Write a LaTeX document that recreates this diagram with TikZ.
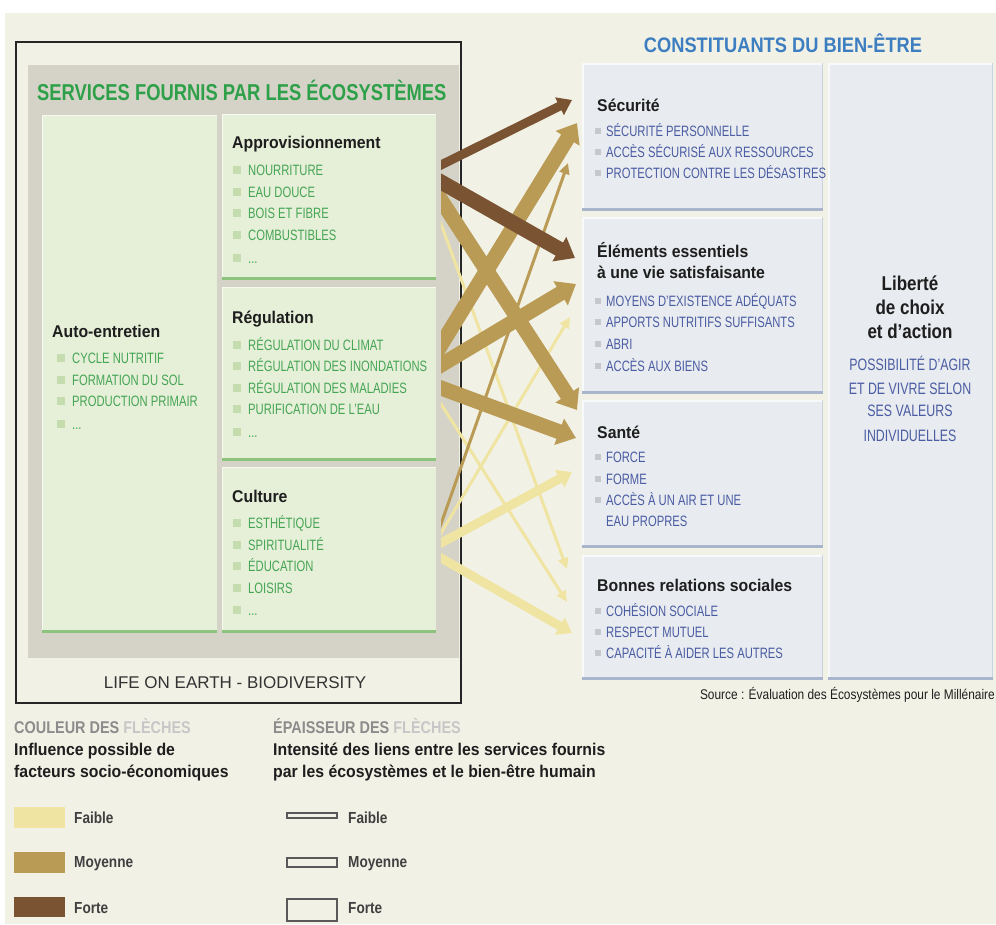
\documentclass[tikz,border=0pt]{standalone}
\usepackage{fontspec}
\setmainfont{Liberation Sans}
\newfontfamily\fitem{Liberation Sans}[FakeStretch=0.75]
\newfontfamily\fhead{Liberation Sans}[FakeStretch=0.93]
\newfontfamily\ftitle{Liberation Sans}[FakeStretch=0.8]
\newfontfamily\fblue{Liberation Sans}[FakeStretch=0.87]
\newfontfamily\fsrc{Liberation Sans}[FakeStretch=0.85]
\usetikzlibrary{arrows.meta,calc}
\definecolor{beige}{HTML}{F2F1E6}
\definecolor{greyzone}{HTML}{D5D3C7}
\definecolor{gboxc}{HTML}{E6EFD7}
\definecolor{gline}{HTML}{8CC37D}
\definecolor{gtitle}{HTML}{2FA04A}
\definecolor{gitemc}{HTML}{45A555}
\definecolor{gbul}{HTML}{C5DCAE}
\definecolor{bboxc}{HTML}{E8EBEF}
\definecolor{bline}{HTML}{A9B5CD}
\definecolor{btitle}{HTML}{3D7EC1}
\definecolor{bitemc}{HTML}{4A5CA3}
\definecolor{bbul}{HTML}{C6C8CC}
\definecolor{cbrown}{HTML}{7A5332}
\definecolor{cgold}{HTML}{B99B55}
\definecolor{clight}{HTML}{F0E4A2}
\definecolor{htext}{HTML}{1E1E1E}
\newcommand\lbullet{{\color{gbul}\rule[1.5pt]{8pt}{8pt}}\hspace{7pt}}
\newcommand\rbullet{{\color{bbul}\rule[2pt]{6pt}{6pt}}\hspace{5pt}}
\tikzset{
  txt/.style={inner sep=0pt, anchor=base west},
  gitem/.style={txt, font=\fitem\fontsize{15}{15}\selectfont, text=gitemc},
  bitem/.style={txt, font=\fitem\fontsize{15}{15}\selectfont, text=bitemc},
  hdr/.style={txt, font=\fhead\bfseries\fontsize{17}{17}\selectfont, text=htext},
  libhdr/.style={inner sep=0pt, anchor=base, font=\fsrc\bfseries\fontsize{20}{20}\selectfont, text=htext},
  libitem/.style={inner sep=0pt, anchor=base, font=\fitem\fontsize{16.5}{16.5}\selectfont, text=bitemc},
  leghdr/.style={txt, font=\fsrc\bfseries\fontsize{17}{17}\selectfont},
  legtxt/.style={txt, font=\fhead\bfseries\fontsize{17}{17}\selectfont, text=htext},
  leglab/.style={txt, font=\fsrc\bfseries\fontsize{16}{16}\selectfont, text=htext!85},
  arrweak/.style={line width=3pt, -{Triangle[length=11pt,width=10pt]}},
  arrmed/.style={line width=9pt, -{Triangle[length=14pt,width=19pt]}},
  arrstrong/.style={line width=15pt, -{Triangle[length=18pt,width=27pt]}},
}
\begin{document}
\begin{tikzpicture}[x=1pt,y=-1pt]
\useasboundingbox (0,0) rectangle (996,924);
\fill[white] (0,0) rectangle (996,924);
\fill[beige] (5,13) rectangle (996,924);

% ---------- left panel ----------
\fill[greyzone] (28,65) rectangle (459,658);
\draw[line width=1.5pt, draw=black!85] (16,42) rectangle (461,703);
\node[txt, font=\ftitle\bfseries\fontsize{23}{23}\selectfont, text=gtitle] (svtitle) at (37,100) {SERVICES FOURNIS PAR LES ÉCOSYSTÈMES};

\foreach \xa/\ya/\xb/\yb in {42/115/217/633, 222/114/436/280, 222/287/436/461, 222/467/436/633}{
  \fill[gboxc] (\xa,\ya) rectangle (\xb,\yb);
  \draw[white!60!gboxc, line width=1pt] (\xa+0.5,\yb) -- (\xa+0.5,\ya+0.5) -- (\xb,\ya+0.5);
  \draw[gline, line width=3pt] (\xa,\yb-1.5) -- (\xb,\yb-1.5);
}

\node[hdr] (auto) at (52,337) {Auto-entretien};
\node[gitem] (au1) at (57,363) {\lbullet CYCLE NUTRITIF};
\node[gitem] (au2) at (57,385) {\lbullet FORMATION DU SOL};
\node[gitem] (au3) at (57,406) {\lbullet PRODUCTION PRIMAIR};
\node[gitem] (au4) at (57,429) {\lbullet ...};

\node[hdr] (appro) at (232,148) {Approvisionnement};
\node[gitem] (ap1) at (233,175) {\lbullet NOURRITURE};
\node[gitem] (ap2) at (233,197) {\lbullet EAU DOUCE};
\node[gitem] (ap3) at (233,218) {\lbullet BOIS ET FIBRE};
\node[gitem] (ap4) at (233,240) {\lbullet COMBUSTIBLES};
\node[gitem] (ap5) at (233,263) {\lbullet ...};

\node[hdr] (regul) at (232,323) {Régulation};
\node[gitem] (rg1) at (233,350) {\lbullet RÉGULATION DU CLIMAT};
\node[gitem] (rg2) at (233,371) {\lbullet RÉGULATION DES INONDATIONS};
\node[gitem] (rg3) at (233,393) {\lbullet RÉGULATION DES MALADIES};
\node[gitem] (rg4) at (233,414) {\lbullet PURIFICATION DE L’EAU};
\node[gitem] (rg5) at (233,437) {\lbullet ...};

\node[hdr] (cult) at (232,502) {Culture};
\node[gitem] (cu1) at (233,528) {\lbullet ESTHÉTIQUE};
\node[gitem] (cu2) at (233,550) {\lbullet SPIRITUALITÉ};
\node[gitem] (cu3) at (233,571) {\lbullet ÉDUCATION};
\node[gitem] (cu4) at (233,593) {\lbullet LOISIRS};
\node[gitem] (cu5) at (233,615) {\lbullet ...};

\node[inner sep=0pt, anchor=base, font=\fontsize{17}{17}\selectfont, text=black!80] (life) at (235,688) {LIFE ON EARTH - BIODIVERSITY};

% ---------- right panel ----------
\node[inner sep=0pt, anchor=base, font=\fblue\bfseries\fontsize{21}{21}\selectfont, text=btitle] (cbtitle) at (783,52) {CONSTITUANTS DU BIEN-ÊTRE};

\foreach \xa/\ya/\xb/\yb in {582/63/823/211, 582/217/823/394, 582/400/823/548, 582/555/823/680, 828/63/993/680}{
  \fill[bboxc] (\xa,\ya) rectangle (\xb,\yb);
  \draw[white!70!bboxc, line width=1.5pt] (\xa+0.75,\yb) -- (\xa+0.75,\ya+0.75) -- (\xb,\ya+0.75);
  \draw[bline!60, line width=1pt] (\xb-0.5,\ya) -- (\xb-0.5,\yb);
  \draw[bline, line width=3pt] (\xa,\yb-1.5) -- (\xb,\yb-1.5);
}

\node[hdr] (secu) at (597,111) {Sécurité};
\node[bitem] (se1) at (595,136) {\rbullet SÉCURITÉ PERSONNELLE};
\node[bitem] (se2) at (595,157) {\rbullet ACCÈS SÉCURISÉ AUX RESSOURCES};
\node[bitem] (se3) at (595,178) {\rbullet PROTECTION CONTRE LES DÉSASTRES};

\node[hdr] (elem) at (597,257) {Éléments essentiels};
\node[hdr] (elemb) at (597,278) {à une vie satisfaisante};
\node[bitem] (el1) at (595,306) {\rbullet MOYENS D’EXISTENCE ADÉQUATS};
\node[bitem] (el2) at (595,327) {\rbullet APPORTS NUTRITIFS SUFFISANTS};
\node[bitem] (el3) at (595,349) {\rbullet ABRI};
\node[bitem] (el4) at (595,371) {\rbullet ACCÈS AUX BIENS};

\node[hdr] (sante) at (597,438) {Santé};
\node[bitem] (sa1) at (595,462) {\rbullet FORCE};
\node[bitem] (sa2) at (595,484) {\rbullet FORME};
\node[bitem] (sa3) at (595,505) {\rbullet ACCÈS À UN AIR ET UNE};
\node[bitem] (sa4) at (606,526) {EAU PROPRES};

\node[hdr] (bonnes) at (597,591) {Bonnes relations sociales};
\node[bitem] (bo1) at (595,616) {\rbullet COHÉSION SOCIALE};
\node[bitem] (bo2) at (595,637) {\rbullet RESPECT MUTUEL};
\node[bitem] (bo3) at (595,658) {\rbullet CAPACITÉ À AIDER LES AUTRES};

\node[libhdr] (lib1) at (910,290) {Liberté};
\node[libhdr] (lib2) at (910,314) {de choix};
\node[libhdr] (lib3) at (910,338) {et d’action};
\node[libitem] (li1) at (910,370) {POSSIBILITÉ D’AGIR};
\node[libitem] (li2) at (910,394) {ET DE VIVRE SELON};
\node[libitem] (li3) at (910,416) {SES VALEURS};
\node[libitem] (li4) at (910,441) {INDIVIDUELLES};

\node[inner sep=0pt, anchor=base east, font=\fsrc\fontsize{14}{14}\selectfont, text=htext] (source) at (995,699) {Source : Évaluation des Écosystèmes pour le Millénaire};

% ---------- arrows ----------
\coordinate (a1s) at (441,165); \coordinate (a1e) at (572,100);
\coordinate (a2s) at (441,182); \coordinate (a2e) at (575,258);
\coordinate (a3s) at (441,200); \coordinate (a3e) at (577,410);
\coordinate (a4s) at (441,224); \coordinate (a4e) at (567,569);
\coordinate (b1s) at (441,345); \coordinate (b1e) at (577,123);
\coordinate (b2s) at (441,365); \coordinate (b2e) at (576,284);
\coordinate (b3s) at (441,388); \coordinate (b3e) at (576,438);
\coordinate (b4s) at (441,404); \coordinate (b4e) at (567,602);
\coordinate (c1s) at (441,524); \coordinate (c1e) at (568,163);
\coordinate (c2s) at (441,533); \coordinate (c2e) at (570,317);
\coordinate (c3s) at (441,543); \coordinate (c3e) at (572,472);
\coordinate (c4s) at (441,558); \coordinate (c4e) at (572,633);
\begin{scope}
\clip (441,0) rectangle (996,924);
\foreach \n in {a4,b4,c2}{
  \draw[arrweak, draw=clight, fill=clight] ($(\n s)!-14pt!(\n e)$) -- (\n e);
}
\foreach \n in {c3,c4}{
  \draw[arrmed, draw=clight, fill=clight] ($(\n s)!-14pt!(\n e)$) -- (\n e);
}
\draw[arrweak, draw=cgold, fill=cgold] ($(c1s)!-14pt!(c1e)$) -- (c1e);
\foreach \n in {a3,b1,b2,b3}{
  \draw[arrstrong, draw=cgold, fill=cgold] ($(\n s)!-14pt!(\n e)$) -- (\n e);
}
\draw[arrmed, draw=cbrown, fill=cbrown] ($(a1s)!-14pt!(a1e)$) -- (a1e);
\draw[arrstrong, draw=cbrown, fill=cbrown] ($(a2s)!-14pt!(a2e)$) -- (a2e);
\end{scope}

% ---------- legend ----------
\node[leghdr, text=black!45] (lg1) at (14,733) {COULEUR DES \textcolor{black!22}{FLÈCHES}};
\node[legtxt] (lg1a) at (14,755) {Influence possible de};
\node[legtxt] (lg1b) at (14,777) {facteurs socio-économiques};
\fill[clight] (14,807) rectangle (65,828);
\fill[cgold] (14,852) rectangle (65,873);
\fill[cbrown] (14,897) rectangle (65,917);
\node[leglab] (lf1) at (74,823) {Faible};
\node[leglab] (lf2) at (74,867) {Moyenne};
\node[leglab] (lf3) at (74,913) {Forte};

\node[leghdr, text=black!45] (lg2) at (273,733) {ÉPAISSEUR DES \textcolor{black!22}{FLÈCHES}};
\node[legtxt] (lg2a) at (273,755) {Intensité des liens entre les services fournis};
\node[legtxt] (lg2b) at (273,777) {par les écosystèmes et le bien-être humain};
\draw[line width=1.2pt, draw=black!65, fill=beige] (287,813) rectangle (337,818);
\draw[line width=1.2pt, draw=black!65, fill=beige] (287,858) rectangle (337,867);
\draw[line width=1.2pt, draw=black!65, fill=beige] (287,899) rectangle (337,921);
\node[leglab] (lt1) at (348,823) {Faible};
\node[leglab] (lt2) at (348,867) {Moyenne};
\node[leglab] (lt3) at (348,913) {Forte};
\end{tikzpicture}
\end{document}
